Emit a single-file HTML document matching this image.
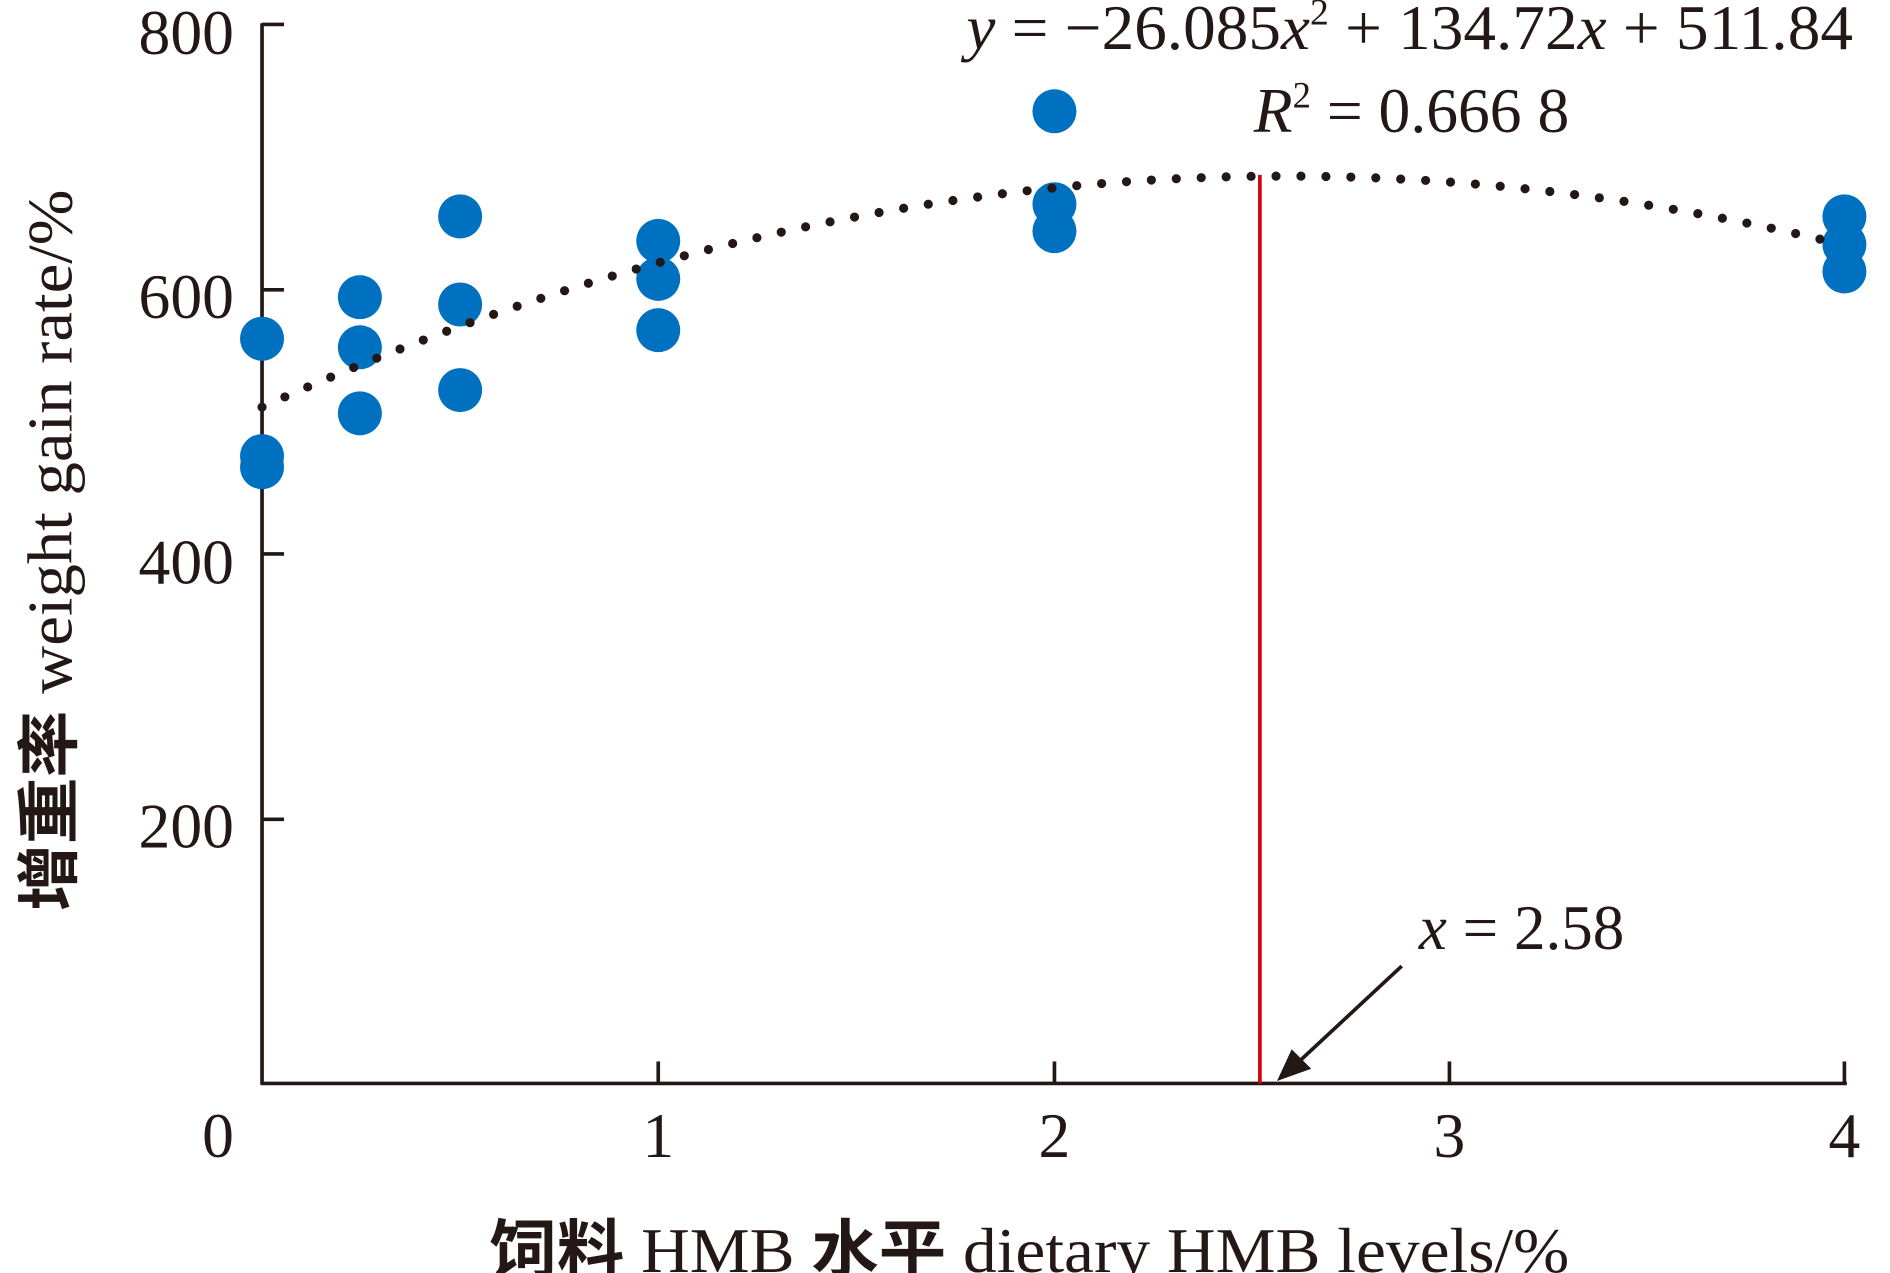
<!DOCTYPE html>
<html><head><meta charset="utf-8"><style>html,body{margin:0;padding:0;background:#fff}svg{display:block}</style></head>
<body>
<svg width="1890" height="1273" viewBox="0 0 1545 1041" xmlns="http://www.w3.org/2000/svg" font-family="'Liberation Serif','Noto Serif CJK SC',serif" fill="#231815">
<g stroke="#231815" stroke-width="3" fill="none">
<line x1="214" y1="19" x2="214" y2="887"/>
<line x1="213" y1="886" x2="1510" y2="886"/>
<line x1="214" y1="20" x2="232" y2="20"/>
<line x1="214" y1="237" x2="232" y2="237"/>
<line x1="214" y1="453" x2="232" y2="453"/>
<line x1="214" y1="670" x2="232" y2="670"/>
<line x1="538" y1="886" x2="538" y2="868"/>
<line x1="862" y1="886" x2="862" y2="868"/>
<line x1="1185" y1="886" x2="1185" y2="868"/>
<line x1="1508" y1="886" x2="1508" y2="868"/>
</g>
<g font-size="52" text-anchor="end">
<text x="191" y="44">800</text><text x="191" y="260">600</text><text x="191" y="477">400</text><text x="191" y="693">200</text>
</g>
<g font-size="52" text-anchor="middle">
<text x="178" y="946">0</text><text x="538" y="946">1</text><text x="862" y="946">2</text><text x="1185" y="946">3</text><text x="1508" y="946">4</text>
</g>
<g fill="#0070c0">
<circle cx="214" cy="277" r="18"/><circle cx="214" cy="373" r="18"/><circle cx="214" cy="382" r="18"/>
<circle cx="294" cy="243" r="18"/><circle cx="294" cy="284" r="18"/><circle cx="294" cy="338" r="18"/>
<circle cx="376" cy="177" r="18"/><circle cx="376" cy="249" r="18"/><circle cx="376" cy="319" r="18"/>
<circle cx="538" cy="197" r="18"/><circle cx="538" cy="228" r="18"/><circle cx="538" cy="270" r="18"/>
<circle cx="862" cy="91" r="18"/><circle cx="862" cy="167" r="18"/><circle cx="862" cy="189" r="18"/>
<circle cx="1508" cy="177" r="18"/><circle cx="1508" cy="200" r="18"/><circle cx="1508" cy="222" r="18"/>
</g>
<line x1="1030" y1="143" x2="1030" y2="886" stroke="#d7000f" stroke-width="3"/>
<path d="M214 332.9 Q856.15 43 1498.3 198" fill="none" stroke="#231815" stroke-width="7.5" stroke-linecap="round" stroke-dasharray="0 20.4"/>
<line x1="1146" y1="790" x2="1060" y2="870" stroke="#231815" stroke-width="3"/>
<polygon points="1044,884 1056,858 1072,874" fill="#231815"/>
<text x="1160" y="776" font-size="52" textLength="168" lengthAdjust="spacingAndGlyphs"><tspan font-style="italic">x</tspan> = 2.58</text>
<text x="790" y="40" font-size="52" textLength="725" lengthAdjust="spacingAndGlyphs"><tspan font-style="italic">y</tspan> = −26.085<tspan font-style="italic">x</tspan><tspan font-size="30" dy="-20">2</tspan><tspan dy="20"> + 134.72</tspan><tspan font-style="italic">x</tspan> + 511.84</text>
<text x="1025" y="108" font-size="52" textLength="258" lengthAdjust="spacingAndGlyphs"><tspan font-style="italic">R</tspan><tspan font-size="30" dy="-20">2</tspan><tspan dy="20"> = 0.666 8</tspan></text>
<text x="400" y="1040" font-size="52" textLength="883" lengthAdjust="spacingAndGlyphs"><tspan font-family="'Noto Sans CJK SC',sans-serif" font-weight="bold">饲料</tspan> HMB <tspan font-family="'Noto Sans CJK SC',sans-serif" font-weight="bold">水平</tspan> dietary HMB levels/%</text>
<text transform="translate(58,745) rotate(-90)" font-size="52" textLength="590" lengthAdjust="spacingAndGlyphs"><tspan font-family="'Noto Sans CJK SC',sans-serif" font-weight="bold">增重率</tspan> weight gain rate/%</text>
</svg>
</body></html>
